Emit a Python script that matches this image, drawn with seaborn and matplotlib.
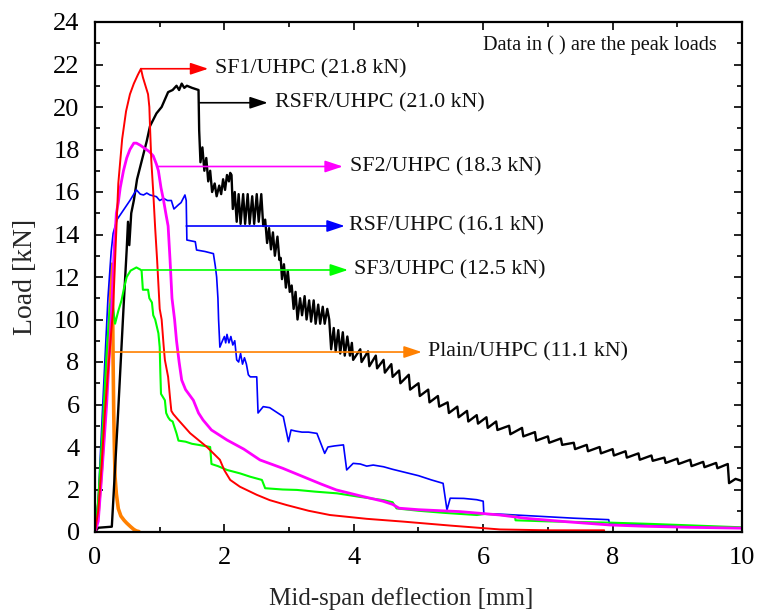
import numpy as np
import pandas as pd
import matplotlib
matplotlib.use("Agg")
import matplotlib.pyplot as plt
import seaborn as sns

# ---------------- data ----------------
plain_x = [0, 0.05, 0.1, 0.15, 0.2, 0.24, 0.26, 0.27, 0.28, 0.29, 0.3, 0.31, 0.33, 0.36, 0.4, 0.45, 0.49, 0.55, 0.6, 0.64, 0.68]
plain_y = [0, 1.0, 3.0, 5.5, 8.0, 10.8, 12.6, 11.5, 8.0, 5.5, 3.9, 2.6, 1.8, 1.1, 0.75, 0.55, 0.42, 0.25, 0.12, 0.05, 0.02]

sf1_x = [0, 0.05, 0.1, 0.15, 0.2, 0.24, 0.28, 0.32, 0.36, 0.42, 0.48, 0.54, 0.6, 0.66, 0.71, 0.74, 0.78, 0.82,
         0.84, 0.85, 0.87, 0.9, 0.93, 0.96, 1.0, 1.03, 1.06, 1.08, 1.13, 1.16, 1.18, 1.21, 1.28, 1.47, 1.73, 1.93,
         2.0, 2.09, 2.24, 2.5, 2.7, 2.96, 3.3, 3.63, 4.2, 4.76, 5.5, 6.26, 7.0, 7.87]
sf1_y = [0, 1.0, 3.0, 5.5, 7.5, 9.0, 10.5, 13.5, 16.4, 18.5, 19.8, 20.6, 21.1, 21.5, 21.8, 21.4, 21.0, 20.6,
         20.0, 19.1, 17.5, 16.0, 14.3, 12.8, 10.5, 10.0, 8.8, 8.1, 7.3, 6.3, 5.7, 5.55, 5.3, 4.65, 4.0, 3.4,
         2.9, 2.45, 2.13, 1.75, 1.5, 1.27, 1.0, 0.8, 0.62, 0.49, 0.3, 0.12, 0.08, 0.08]

sf2_x = [0, 0.05, 0.1, 0.18, 0.25, 0.3, 0.33, 0.36, 0.39, 0.44, 0.49, 0.54, 0.6, 0.64, 0.7, 0.77, 0.84, 0.9,
         0.95, 0.98, 1.02, 1.06, 1.1, 1.13, 1.16, 1.19, 1.23, 1.26, 1.3, 1.34, 1.4, 1.52, 1.6, 1.67, 1.8, 2.04,
         2.3, 2.55, 2.9, 3.22, 3.5, 3.73, 4.1, 4.45, 4.6, 4.7, 5.0, 5.64, 6.26, 6.67, 7.3, 7.96, 8.5, 9.2, 10.0]
sf2_y = [0, 0.5, 2.5, 6.0, 10.0, 13.5, 15.0, 15.5, 16.2, 17.0, 17.6, 18.0, 18.3, 18.3, 18.2, 18.05, 17.9, 17.7,
         17.3, 17.0, 16.2, 15.6, 14.9, 14.4, 12.8, 11.0, 10.0, 9.0, 8.0, 7.15, 6.7, 6.2, 5.6, 5.27, 4.8, 4.33,
         3.9, 3.39, 3.0, 2.6, 2.25, 1.98, 1.7, 1.45, 1.3, 1.12, 1.05, 0.96, 0.8, 0.64, 0.48, 0.33, 0.27, 0.22, 0.18]

rsf_x = [0, 0.05, 0.12, 0.2, 0.25, 0.28, 0.34, 0.44, 0.54, 0.6, 0.64, 0.7, 0.75, 0.8, 0.85, 0.95, 1.0, 1.06,
         1.12, 1.18, 1.22, 1.29, 1.33, 1.39, 1.41, 1.42, 1.55, 1.57, 1.7, 1.83, 1.86, 1.88, 1.9, 1.91, 1.93,
         1.97, 2.0, 2.02, 2.04, 2.07, 2.1, 2.13, 2.16, 2.19, 2.22, 2.25, 2.28, 2.31, 2.34, 2.37, 2.4, 2.5, 2.52,
         2.6, 2.7, 2.8, 2.91, 2.99, 3.03, 3.1, 3.2, 3.3, 3.43, 3.55, 3.6, 3.7, 3.84, 3.89, 3.99, 4.1, 4.2, 4.3,
         4.46, 4.6, 4.8, 5.0, 5.2, 5.38, 5.44, 5.49, 5.7, 5.9, 6.0, 6.01, 6.2, 6.8, 7.4, 7.94, 7.95, 8.5, 9.2, 10.0]
rsf_y = [0, 1.5, 6.0, 11.0, 13.2, 14.05, 14.7, 15.15, 15.6, 15.9, 16.1, 15.9, 15.86, 15.95, 15.86, 15.78, 15.6, 15.7,
         15.6, 15.6, 15.2, 15.4, 15.5, 15.86, 15.6, 13.74, 13.66, 13.27, 13.2, 13.1, 12.5, 12.0, 11.0, 10.0, 8.7,
         9.0, 9.2, 8.9, 9.3, 8.9, 9.2, 8.8, 9.0, 8.1, 8.0, 8.4, 7.9, 8.2, 7.9, 7.4, 7.3, 7.3, 5.6,
         5.9, 5.85, 5.65, 5.43, 4.25, 4.8, 4.75, 4.7, 4.7, 4.64, 3.7, 4.0, 4.05, 4.1, 2.92, 3.23, 3.2, 3.1, 3.15,
         3.07, 2.95, 2.8, 2.65, 2.45, 2.29, 1.04, 1.59, 1.58, 1.52, 1.45, 0.85, 0.85, 0.75, 0.65, 0.58, 0.4, 0.33, 0.27, 0.2]

sf3_x = [0, 0.05, 0.12, 0.18, 0.23, 0.26, 0.31, 0.36, 0.41, 0.45, 0.49, 0.55, 0.64, 0.7, 0.72, 0.74, 0.82, 0.84,
         0.88, 0.9, 0.93, 0.98, 1.0, 1.01, 1.02, 1.08, 1.1, 1.13, 1.16, 1.2, 1.26, 1.29, 1.4, 1.5, 1.6, 1.78, 1.8,
         1.9, 2.04, 2.24, 2.4, 2.58, 2.63, 2.9, 3.12, 3.4, 3.74, 4.1, 4.46, 4.6, 4.66, 5.0, 5.4, 5.9, 6.03, 6.49,
         6.5, 7.0, 7.96, 8.6, 9.3, 10.0]
sf3_y = [0, 1.5, 5.0, 8.5, 10.6, 11.0, 9.8, 10.4, 10.9, 11.5, 12.0, 12.3, 12.45, 12.35, 12.3, 11.4, 11.4, 11.0,
         10.8, 10.2, 10.0, 9.35, 8.7, 7.5, 6.5, 6.2, 5.6, 5.4, 5.27, 5.2, 4.64, 4.3, 4.25, 4.15, 4.1, 4.0, 3.2,
         3.1, 2.92, 2.76, 2.6, 2.45, 2.06, 2.0, 1.98, 1.9, 1.82, 1.65, 1.5, 1.4, 1.11, 1.0, 0.9, 0.8, 0.85, 0.75,
         0.55, 0.5, 0.44, 0.38, 0.3, 0.22]

rsfr_x = [0, 0.05, 0.26, 0.35, 0.44, 0.49, 0.51, 0.53, 0.56, 0.6, 0.65, 0.7, 0.8, 0.85, 0.95, 1.03, 1.13, 1.2,
          1.26, 1.3, 1.34, 1.38, 1.42, 1.5, 1.6, 1.61, 1.63, 1.66, 1.69, 1.72, 1.75, 1.78, 1.81, 1.85, 1.88, 1.92,
          1.95, 1.98, 2.01, 2.04, 2.07, 2.09, 2.11, 2.13, 2.16, 2.19, 2.22, 2.25, 2.29, 2.32, 2.36, 2.39, 2.43,
          2.46, 2.5, 2.53, 2.57, 2.6, 2.63, 2.66, 2.69, 2.72, 2.75, 2.78, 2.82, 2.85, 2.87, 2.89, 2.92, 2.95,
          2.98, 3.01, 3.04, 3.07, 3.1, 3.13, 3.17, 3.2, 3.24, 3.27, 3.31, 3.34, 3.38, 3.41, 3.45, 3.48, 3.52,
          3.55, 3.59, 3.62, 3.65, 3.69, 3.72, 3.76, 3.79, 3.83, 3.86, 3.9, 3.94, 3.97, 3.99, 4.1, 4.12, 4.22,
          4.24, 4.34, 4.36, 4.46, 4.48, 4.58, 4.6, 4.7, 4.72, 4.85, 4.87, 5.0, 5.02, 5.15, 5.17, 5.3, 5.32, 5.45,
          5.47, 5.6, 5.62, 5.75, 5.77, 5.9, 5.92, 6.05, 6.07, 6.2, 6.22, 6.4, 6.42, 6.6, 6.62, 6.8, 6.82, 7.0,
          7.02, 7.2, 7.22, 7.4, 7.42, 7.6, 7.62, 7.8, 7.82, 8.0, 8.02, 8.2, 8.22, 8.4, 8.42, 8.6, 8.62, 8.8,
          8.82, 9.0, 9.02, 9.2, 9.22, 9.4, 9.42, 9.6, 9.62, 9.78, 9.8, 9.9, 10.0]
rsfr_y = [0, 0.2, 0.25, 5.2, 10.5, 13.3, 14.6, 13.5, 15.0, 15.6, 16.6, 17.2, 18.4, 19.1, 19.7, 20.0, 20.7, 20.8,
          21.0, 20.8, 21.1, 20.9, 21.0, 20.9, 20.8, 18.9, 17.4, 18.1, 17.0, 17.6, 16.5, 17.0, 16.0, 16.4, 15.8, 16.3,
          15.9, 16.6, 16.1, 16.8, 16.5, 16.9, 16.8, 15.2, 16.0, 14.6, 15.9, 14.5, 15.9, 14.5, 15.9, 14.5, 15.8,
          14.5, 15.9, 14.6, 15.9, 14.4, 14.7, 13.6, 14.3, 13.3, 14.1, 13.0, 13.9, 12.8, 12.9, 11.9, 12.6, 11.5,
          12.3, 11.3, 11.6, 10.5, 11.3, 10.0, 11.0, 10.2, 11.1, 10.0, 10.9, 9.9, 10.9, 9.8, 10.7, 9.8, 10.6,
          9.8, 10.5, 10.0, 8.6, 9.6, 8.5, 9.5, 8.4, 9.4, 8.3, 9.2, 8.3, 8.9, 8.1, 8.6, 8.0, 8.5,
          7.8, 8.3, 7.7, 8.1, 7.5, 7.9, 7.3, 7.6, 7.0, 7.4, 6.7, 7.0, 6.4, 6.7, 6.1, 6.4, 5.9, 6.1,
          5.6, 5.9, 5.4, 5.7, 5.2, 5.5, 5.1, 5.4, 4.9, 5.2, 4.8, 5.0, 4.6, 4.9, 4.5, 4.7, 4.3, 4.5,
          4.2, 4.4, 4.1, 4.2, 3.9, 4.1, 3.8, 4.0, 3.7, 3.9, 3.6, 3.8, 3.5, 3.7, 3.4, 3.6, 3.35, 3.5,
          3.25, 3.45, 3.2, 3.4, 3.1, 3.3, 3.05, 3.25, 3.0, 3.2, 2.3, 2.5, 2.4]

series_names = ["Plain/UHPC", "SF1/UHPC", "SF2/UHPC", "RSF/UHPC", "SF3/UHPC", "RSFR/UHPC"]
peak_loads = [11.1, 21.8, 18.3, 16.1, 12.5, 21.0]
x_ticks = [0, 2, 4, 6, 8, 10]
y_ticks = [0, 2, 4, 6, 8, 10, 12, 14, 16, 18, 20, 22, 24]

# ---------------- figure ----------------
sns.set_theme(style="ticks")
plt.rcParams["font.family"] = ["Liberation Serif", "DejaVu Serif"]

fig = plt.figure(figsize=(7.58, 6.10), dpi=100)
ax = fig.add_axes([95 / 758, 1 - 532 / 610, (742 - 95) / 758, (532 - 22) / 610])

colors = {"Plain/UHPC": "#FF8000", "SF1/UHPC": "#FF0000", "SF2/UHPC": "#FF00FF",
          "RSF/UHPC": "#0000FF", "SF3/UHPC": "#00FF00", "RSFR/UHPC": "#000000"}
widths = {"Plain/UHPC": 2.6, "SF1/UHPC": 1.4, "SF2/UHPC": 2.0,
          "RSF/UHPC": 1.2, "SF3/UHPC": 1.5, "RSFR/UHPC": 1.7}

curves = {
    "Plain/UHPC": (plain_x, plain_y),
    "RSFR/UHPC": (rsfr_x, rsfr_y),
    "RSF/UHPC": (rsf_x, rsf_y),
    "SF3/UHPC": (sf3_x, sf3_y),
    "SF2/UHPC": (sf2_x, sf2_y),
    "SF1/UHPC": (sf1_x, sf1_y),
}
for name, (xs, ys) in curves.items():
    d = pd.DataFrame({"x": xs, "y": ys})
    sns.lineplot(data=d, x="x", y="y", ax=ax, color=colors[name], lw=widths[name],
                 estimator=None, sort=False, legend=False)

# annotation arrows: (series, y, start x, head x, text x)
ann = [
    ("SF1/UHPC", 21.8, 0.71, 1.75, 1.86),
    ("RSFR/UHPC", 20.2, 1.62, 2.67, 2.78),
    ("SF2/UHPC", 17.2, 0.97, 3.83, 3.94),
    ("RSF/UHPC", 14.4, 1.41, 3.86, 3.93),
    ("SF3/UHPC", 12.33, 0.73, 3.91, 4.0),
    ("Plain/UHPC", 8.47, 0.28, 5.05, 5.15),
]
for name, yy, x0, x1, xt in ann:
    pk = peak_loads[series_names.index(name)]
    ax.annotate("", xy=(x1, yy), xytext=(x0, yy),
                arrowprops=dict(arrowstyle="-|>,head_length=0.9,head_width=0.3",
                                color=colors[name], lw=1.2, shrinkA=0, shrinkB=0))
    ax.text(xt, yy, f"{name} ({pk:.1f} kN)", fontsize=15.8, va="center", ha="left", color="#111111")

ax.text(6.0, 22.92, "Data in ( ) are the peak loads", fontsize=14.6, va="center", ha="left", color="#111111")

ax.set_xlim(0, 10)
ax.set_ylim(0, 24)
ax.set_xticks(x_ticks)
ax.set_yticks(y_ticks)
ax.set_xticks([1, 3, 5, 7, 9], minor=True)
ax.set_yticks(list(range(1, 24, 2)), minor=True)
ax.tick_params(which="both", direction="in", top=True, right=True, width=1.2, colors="black")
ax.tick_params(which="major", length=6, labelsize=19, pad=11)
ax.tick_params(which="minor", length=3.5)
for s in ax.spines.values():
    s.set_linewidth(1.6)
    s.set_color("black")
ax.set_xlabel("Mid-span deflection [mm]", fontsize=18)
ax.set_ylabel("Load [kN]", fontsize=20)
ax.xaxis.set_label_coords(0.473, -0.108)
ax.yaxis.set_label_coords(-0.088, 0.5)

fig.savefig("out.png", dpi=100)
